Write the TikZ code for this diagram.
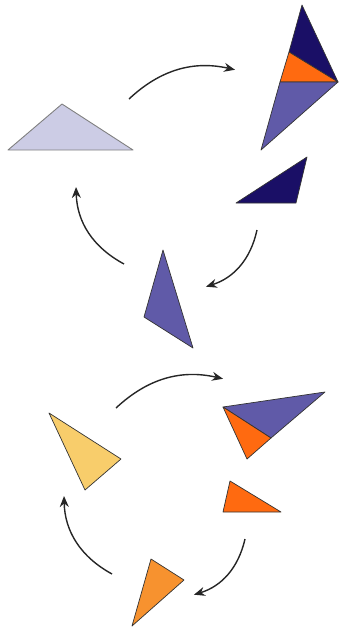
\documentclass[tikz,border=0pt]{standalone}
\usetikzlibrary{arrows.meta}
\definecolor{navy}{HTML}{1A0F66}
\definecolor{purp}{HTML}{605AA8}
\definecolor{orng}{HTML}{FF6A10}
\definecolor{lav}{HTML}{CCCCE5}
\definecolor{yel}{HTML}{F8CD6B}
\definecolor{lorng}{HTML}{F7922F}
\tikzset{
  tri/.style={draw=black!80, line width=0.7pt, line join=round},
  ltri/.style={draw=black!50, line width=0.9pt, line join=round, fill=lav},
  arr/.style={line width=1.4pt, draw=black!85, -{Stealth[length=11pt,width=9pt]}, shorten >=1pt}
}
\begin{document}
\begin{tikzpicture}[x=1pt,y=-1pt]
\useasboundingbox (0,0) rectangle (347,630);
% top cycle
\draw[ltri] (8,150) -- (62,104) -- (133,150) -- cycle;
\draw[tri, fill=navy] (302,5) -- (289,52) -- (338,82) -- cycle;
\draw[tri, fill=orng] (289,52) -- (280,82) -- (338,82) -- cycle;
\draw[tri, fill=purp] (280,82) -- (338,82) -- (261,150) -- cycle;
\draw[tri, fill=navy] (236,203) -- (307,157) -- (296,203) -- cycle;
\draw[tri, fill=purp] (163,250) -- (144,317) -- (193,348) -- cycle;
\coordinate (a1s) at (129,99);  \coordinate (a1e) at (236,70);
\coordinate (a2s) at (257,230); \coordinate (a2e) at (205,287);
\coordinate (a3s) at (124,264); \coordinate (a3e) at (76,186);
\draw[arr] (a1s) to[bend left=28] (a1e);
\draw[arr] (a2s) to[bend left=30] (a2e);
\draw[arr] (a3s) to[bend left=30] (a3e);
% bottom cycle
\draw[tri, fill=yel] (49,413) -- (85,490) -- (121,459) -- cycle;
\draw[tri, fill=purp] (223,407) -- (325,392) -- (271,438) -- cycle;
\draw[tri, fill=orng] (223,407) -- (271,438) -- (247,459) -- cycle;
\draw[tri, fill=orng] (230,481) -- (223,512) -- (281,512) -- cycle;
\draw[tri, fill=lorng] (151,559) -- (132,626) -- (184,580) -- cycle;
\coordinate (b1s) at (116,408); \coordinate (b1e) at (224,379);
\coordinate (b2s) at (245,539); \coordinate (b2e) at (193,595);
\coordinate (b3s) at (112,574); \coordinate (b3e) at (64,495);
\draw[arr] (b1s) to[bend left=28] (b1e);
\draw[arr] (b2s) to[bend left=30] (b2e);
\draw[arr] (b3s) to[bend left=30] (b3e);
\end{tikzpicture}
\end{document}
